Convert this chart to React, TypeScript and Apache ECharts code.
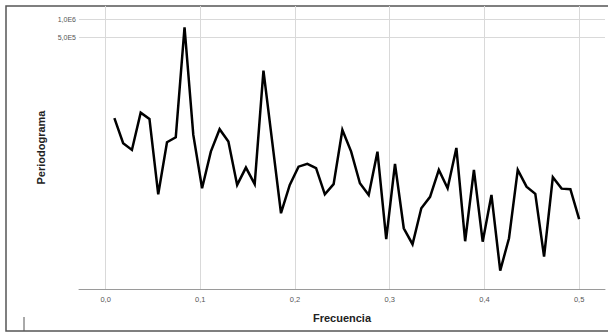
import React, { useEffect, useRef } from "react";
import * as echarts from "echarts";

// Frequencies k/108, k = 1..54
const N_OBS = 108;
const periodogram: number[] = [
  22300, 8510, 6570, 27600, 21700, 1190, 8840, 10700, 741000, 11700,
  1500, 6150, 14600, 9050, 1710, 3330, 1760, 139000, 8930, 574,
  1710, 3450, 3840, 3250, 1190, 1760, 14200, 6150, 1820, 1160,
  6150, 211, 3840, 322, 174, 697, 1080, 3040, 1500, 7100,
  195, 3040, 192, 1160, 63, 219, 3040, 1600, 1210, 108,
  2300, 1480, 1450, 456,
];
const frequencies: number[] = periodogram.map((_, i) => (i + 1) / N_OBS);
const xTicks: number[] = [0, 0.1, 0.2, 0.3, 0.4, 0.5];
const yGridValues: number[] = [1000000, 500000];
const yGridLabels: string[] = ["1,0E6", "5,0E5"];

export default function App() {
  const ref = useRef<HTMLDivElement>(null);
  useEffect(() => {
    if (!ref.current) return;
    const chart = echarts.init(ref.current, undefined, { renderer: "svg" });
    const gridColor = "#d9d9d9";
    chart.setOption({
      animation: false,
      backgroundColor: "#ffffff",
      textStyle: { fontFamily: "Liberation Sans, Arial, sans-serif" },
      grid: { left: 79, right: 3, top: 6, bottom: 44, containLabel: false },
      xAxis: {
        type: "value",
        min: -0.0281,
        max: 0.5273,
        name: "Frecuencia",
        nameLocation: "middle",
        nameGap: 23,
        nameTextStyle: { fontSize: 11, fontWeight: "bold", color: "#222" },
        axisLine: { show: true, lineStyle: { color: "#9a9a9a", width: 1 } },
        axisTick: { show: false },
        splitLine: { show: false },
        axisLabel: {
          customValues: xTicks,
          fontSize: 7.5,
          color: "#555",
          margin: 6,
          formatter: (v: number) => v.toFixed(1).replace(".", ","),
        },
      },
      yAxis: {
        type: "log",
        min: 31,
        max: 1680000,
        name: "Periodograma",
        nameLocation: "middle",
        nameGap: 33,
        nameTextStyle: { fontSize: 11, fontWeight: "bold", color: "#222" },
        axisLine: { show: true, lineStyle: { color: "#9a9a9a", width: 1 } },
        axisTick: { show: false },
        axisLabel: { show: false },
        splitLine: { show: false },
      },
      series: [
        {
          type: "line",
          data: frequencies.map((f, i) => [f, periodogram[i]]),
          symbol: "none",
          lineStyle: { color: "#000", width: 2.5, join: "miter" },
          z: 5,
          markLine: {
            silent: true,
            symbol: "none",
            animation: false,
            lineStyle: { color: gridColor, type: "solid", width: 1 },
            data: [
              ...xTicks.map((t) => ({ xAxis: t, label: { show: false } })),
              ...yGridValues.map((v, i) => ({
                yAxis: v,
                label: {
                  show: true,
                  position: "start",
                  formatter: yGridLabels[i],
                  fontSize: 7,
                  color: "#555",
                  distance: 3,
                },
              })),
            ],
          },
        },
      ],
      graphic: [
        {
          type: "rect",
          shape: { x: 6, y: 6, width: 620, height: 325 },
          style: { fill: "none", stroke: "#555", lineWidth: 1.5 },
          silent: true,
        },
        {
          type: "line",
          shape: { x1: 24, y1: 317, x2: 24, y2: 331 },
          style: { stroke: "#555", lineWidth: 1 },
          silent: true,
        },
      ],
    });
    return () => chart.dispose();
  }, []);
  return (
    <div
      ref={ref}
      style={{ position: "fixed", left: 0, top: 0, width: 608, height: 333 }}
    />
  );
}
